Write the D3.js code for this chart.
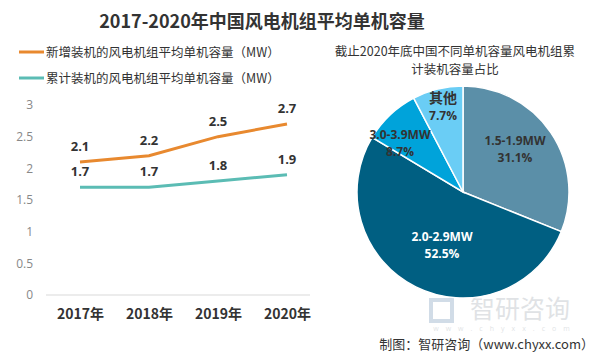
<!DOCTYPE html>
<html><head><meta charset="utf-8">
<script src="https://cdn.jsdelivr.net/npm/d3@7"></script>
<style>
body{margin:0;background:#fff;}
svg{display:block;font-family:"Noto Sans CJK SC","Noto Sans",sans-serif;}
</style></head>
<body><svg id="c" width="598" height="358"></svg>
<script>
const years = ["2017年","2018年","2019年","2020年"];
const newAvg = [2.1, 2.2, 2.5, 2.7];
const cumAvg = [1.7, 1.7, 1.8, 1.9];
const seriesNames = ["新增装机的风电机组平均单机容量（MW）","累计装机的风电机组平均单机容量（MW）"];
const yTicks = [0, 0.5, 1, 1.5, 2, 2.5, 3];
const pieCats = ["1.5-1.9MW","2.0-2.9MW","3.0-3.9MW","其他"];
const pieVals = [31.1, 52.5, 8.7, 7.7];

const svg = d3.select("#c");
const lineColors = ["#E8892F","#5BBCB4"];
const pieColors = ["#5B8FA8","#005F82","#00A3DA","#6ACDF5"];
const pieText = ["#333","#fff","#333","#333"];
const numFont = "'Open Sans','Liberation Sans',sans-serif";

// title
svg.append("text").attr("x",262).attr("y",28).attr("text-anchor","middle")
  .attr("font-size",18).attr("font-weight","bold").attr("fill","#333")
  .text("2017-2020年中国风电机组平均单机容量");

// legend
seriesNames.forEach((n,i)=>{
  const y = 52 + i*26;
  svg.append("line").attr("x1",19).attr("x2",44).attr("y1",y).attr("y2",y)
    .attr("stroke",lineColors[i]).attr("stroke-width",3);
  svg.append("text").attr("x",46).attr("y",y+4.5).attr("font-size",12.5).attr("fill","#333").text(n);
});

// line chart
const x = d3.scalePoint().domain(years).range([80,287]);
const y = d3.scaleLinear().domain([0,3]).range([295,105]);
svg.append("line").attr("x1",46).attr("x2",310).attr("y1",y(0)).attr("y2",y(0))
  .attr("stroke","#d9d9d9").attr("stroke-width",1);
const yAxis = svg.append("g").attr("transform","translate(36,0)")
  .call(d3.axisLeft(y).tickValues(yTicks).tickSize(0).tickFormat(d3.format("")));
yAxis.select(".domain").remove();
yAxis.selectAll("text").attr("font-size",12).attr("fill","#888").attr("font-family",numFont).attr("dx",0);
const xAxis = svg.append("g").attr("transform","translate(0,303)")
  .call(d3.axisBottom(x).tickSize(0));
xAxis.select(".domain").remove();
xAxis.selectAll("text").attr("font-size",14).attr("font-weight","bold").attr("fill","#333")
  .attr("font-family","'Noto Sans CJK SC',sans-serif").attr("dy","0.9em");

[newAvg, cumAvg].forEach((vals,i)=>{
  const line = d3.line().x((d,j)=>x(years[j])).y(d=>y(d));
  svg.append("path").datum(vals).attr("d",line).attr("fill","none")
    .attr("stroke",lineColors[i]).attr("stroke-width",3);
  svg.selectAll(null).data(vals).enter().append("text")
    .attr("x",(d,j)=>x(years[j])).attr("y",d=>y(d)-11)
    .attr("text-anchor","middle").attr("font-size",13).attr("font-weight","bold")
    .attr("fill","#333").attr("font-family",numFont).text(d=>d.toFixed(1));
});

// pie title
svg.append("text").attr("x",455).attr("y",56).attr("text-anchor","middle").attr("font-size",12.5).attr("fill","#333")
  .text("截止2020年底中国不同单机容量风电机组累");
svg.append("text").attr("x",455).attr("y",74).attr("text-anchor","middle").attr("font-size",12.5).attr("fill","#333")
  .text("计装机容量占比");

// watermark
const wm = svg.append("g").attr("opacity",0.3);
wm.append("text").attr("x",520).attr("y",318).attr("text-anchor","middle").attr("font-size",25)
  .attr("fill","#9aa3ab").text("智研咨询");
wm.append("rect").attr("x",431).attr("y",300).attr("width",21).attr("height",21).attr("fill","none")
  .attr("stroke","#6b8fb3").attr("stroke-width",4);
wm.append("text").attr("x",505).attr("y",331).attr("text-anchor","middle").attr("font-size",7)
  .attr("font-family",numFont).attr("letter-spacing",7).attr("fill","#9aa3ab").text("www.chyxx.com");

// pie
const cx = 463, cy = 192, r = 106;
const pie = d3.pie().sort(null).value(d=>d)(pieVals);
const arc = d3.arc().innerRadius(0).outerRadius(r);
const g = svg.append("g").attr("transform",`translate(${cx},${cy})`);
g.selectAll("path").data(pie).enter().append("path").attr("d",arc)
  .attr("fill",(d,i)=>pieColors[i]).attr("stroke","#fff").attr("stroke-width",1.5);
const labelPos = [[52,-47],[-21,49],[-63,-53],[-20,-89]];
pie.forEach((d,i)=>{
  const t = g.append("text").attr("text-anchor","middle").attr("font-size",12).attr("font-weight","bold")
    .attr("fill",pieText[i]).attr("font-family",numFont);
  t.append("tspan").attr("x",labelPos[i][0]).attr("y",labelPos[i][1])
    .attr("font-family",i===3?"'Noto Sans CJK SC',sans-serif":numFont).attr("font-size",i===3?14:12).text(pieCats[i]);
  t.append("tspan").attr("x",labelPos[i][0]).attr("y",labelPos[i][1]+17).text(pieVals[i].toFixed(1)+"%");
});

// footer
svg.append("text").attr("x",594).attr("y",349).attr("text-anchor","end").attr("font-size",13).attr("fill","#333")
  .text("制图：智研咨询（www.chyxx.com）");
</script></body></html>
